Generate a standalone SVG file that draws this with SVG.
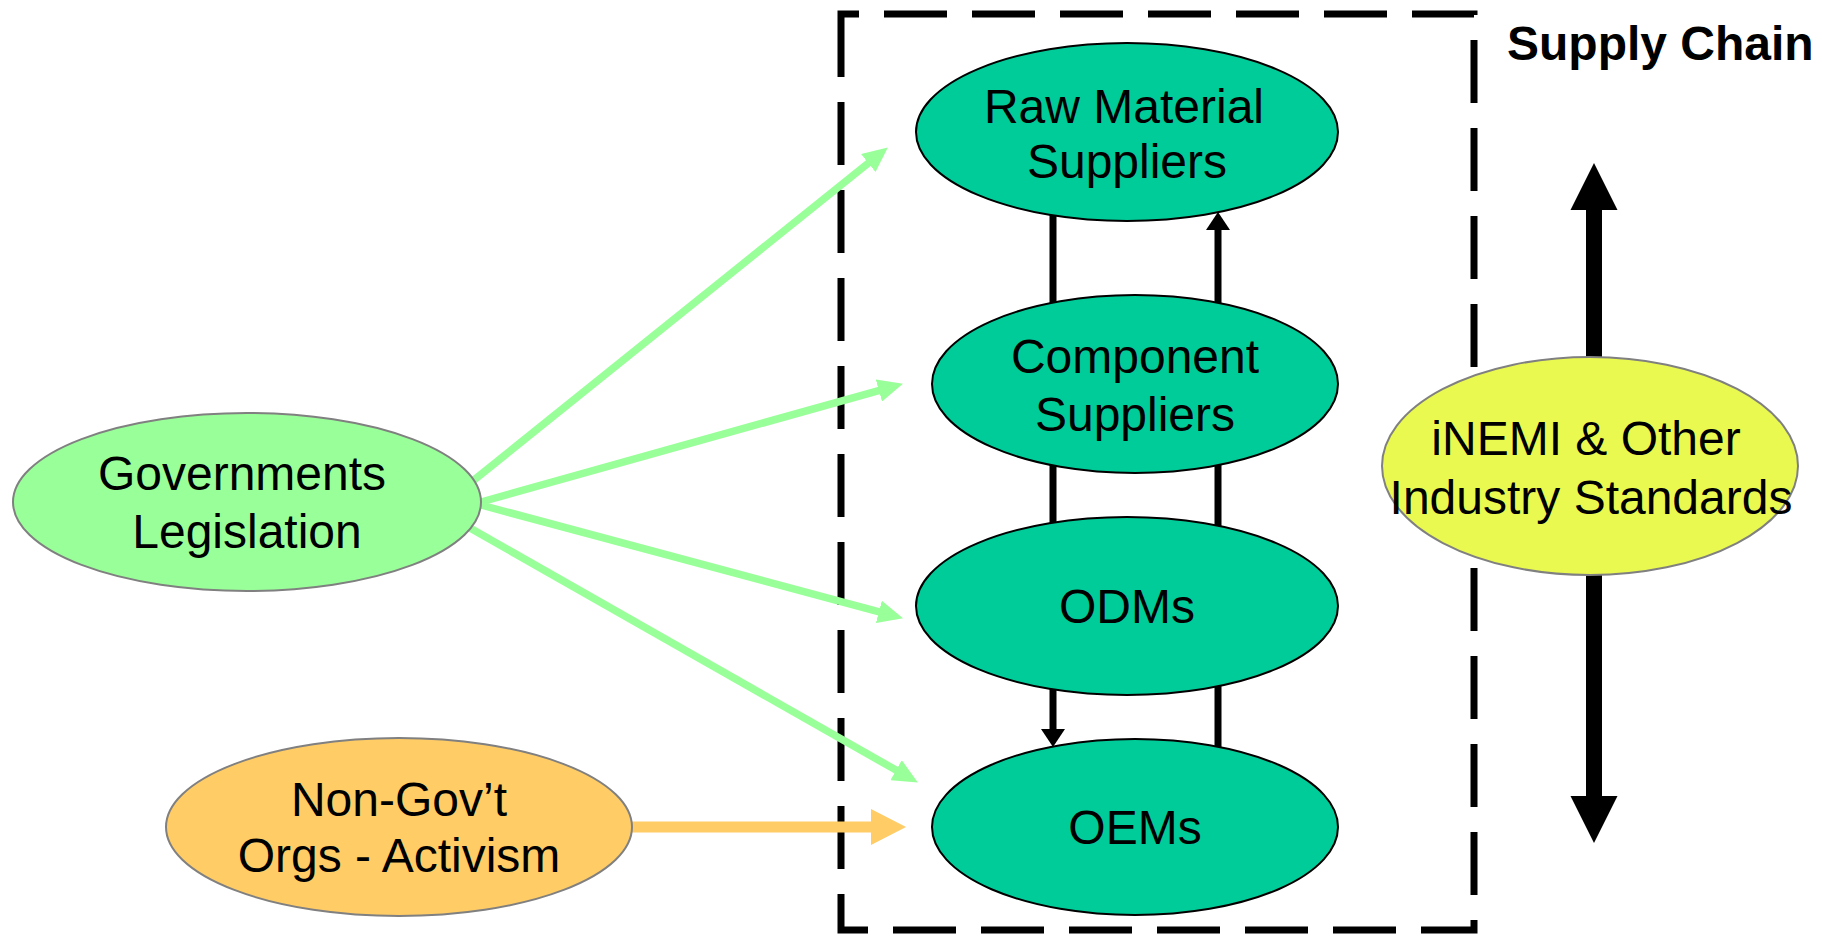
<svg xmlns="http://www.w3.org/2000/svg" width="1822" height="937" viewBox="0 0 1822 937">
<style>
text{font-family:"Liberation Sans",Arial,sans-serif;font-size:48px;fill:#000;text-anchor:middle}
.teal{fill:#00CC99;stroke:#000;stroke-width:2}
.gov{fill:#99FF99;stroke:#808080;stroke-width:2}
.ngo{fill:#FFCC66;stroke:#808080;stroke-width:2}
.std{fill:#EAF950;stroke:#808080;stroke-width:2}
.g{stroke:#99FF99;stroke-width:7.5;fill:none}
.k{stroke:#000;stroke-width:7;fill:none}
</style>
<defs>
<marker id="ag" markerUnits="userSpaceOnUse" viewBox="0 0 25 23" markerWidth="25" markerHeight="23" refX="10" refY="11.5" orient="auto"><path d="M0,0 L25,11.5 L0,23 Z" fill="#99FF99"/></marker>
<marker id="ao" markerUnits="userSpaceOnUse" viewBox="0 0 35 36" markerWidth="35" markerHeight="36" refX="15" refY="18" orient="auto"><path d="M0,0 L35,18 L0,36 Z" fill="#FFCC66"/></marker>
<marker id="ak" markerUnits="userSpaceOnUse" viewBox="0 0 18 24" markerWidth="18" markerHeight="24" refX="8" refY="12" orient="auto"><path d="M0,0 L18,12 L0,24 Z" fill="#000"/></marker>
</defs>
<rect width="1822" height="937" fill="#fff"/>
<path id="supply-chain-box" d="M841,14 V930 H1474 V14 Z" fill="none" stroke="#000" stroke-width="7" stroke-dasharray="63 25"/>
<text x="1507" y="60" style="font-weight:bold;text-anchor:start">Supply Chain</text>
<g id="connectors">
<line class="k" x1="1053" y1="215" x2="1053" y2="737" marker-end="url(#ak)"/>
<line class="k" x1="1218" y1="747" x2="1218" y2="222" marker-end="url(#ak)"/>
<path d="M1594,163 L1617.5,210 L1602,210 L1602,796 L1617.5,796 L1594,843 L1570.5,796 L1586,796 L1586,210 L1570.5,210 Z" fill="#000"/>
<line class="g" x1="474" y1="480" x2="876.1" y2="156.8" marker-end="url(#ag)"/>
<line class="g" x1="481" y1="502" x2="888.5" y2="387.8" marker-end="url(#ag)"/>
<line class="g" x1="481" y1="505" x2="888.5" y2="614.4" marker-end="url(#ag)"/>
<line class="g" x1="470" y1="528" x2="904.8" y2="775.1" marker-end="url(#ag)"/>
<line x1="632" y1="827" x2="886" y2="827" stroke="#FFCC66" stroke-width="11" marker-end="url(#ao)"/>
</g>
<g id="raw-material-suppliers">
<ellipse class="teal" cx="1127" cy="132" rx="211" ry="89"/>
<text x="1124" y="123">Raw Material</text>
<text x="1127" y="178">Suppliers</text>
</g>
<g id="component-suppliers">
<ellipse class="teal" cx="1135" cy="384" rx="203" ry="89"/>
<text x="1135" y="373">Component</text>
<text x="1135" y="431">Suppliers</text>
</g>
<g id="odms">
<ellipse class="teal" cx="1127" cy="606" rx="211" ry="89"/>
<text x="1127" y="623">ODMs</text>
</g>
<g id="oems">
<ellipse class="teal" cx="1135" cy="827" rx="203" ry="88"/>
<text x="1135" y="844">OEMs</text>
</g>
<g id="governments-legislation">
<ellipse class="gov" cx="247" cy="502" rx="234" ry="89"/>
<text x="242" y="490">Governments</text>
<text x="247" y="548">Legislation</text>
</g>
<g id="non-govt-orgs">
<ellipse class="ngo" cx="399" cy="827" rx="233" ry="89"/>
<text x="399" y="816">Non-Gov’t</text>
<text x="399" y="872">Orgs - Activism</text>
</g>
<g id="inemi-standards">
<ellipse class="std" cx="1590" cy="466" rx="208" ry="109"/>
<text x="1586" y="455">iNEMI &amp; Other</text>
<text x="1591" y="514">Industry Standards</text>
</g>
</svg>
